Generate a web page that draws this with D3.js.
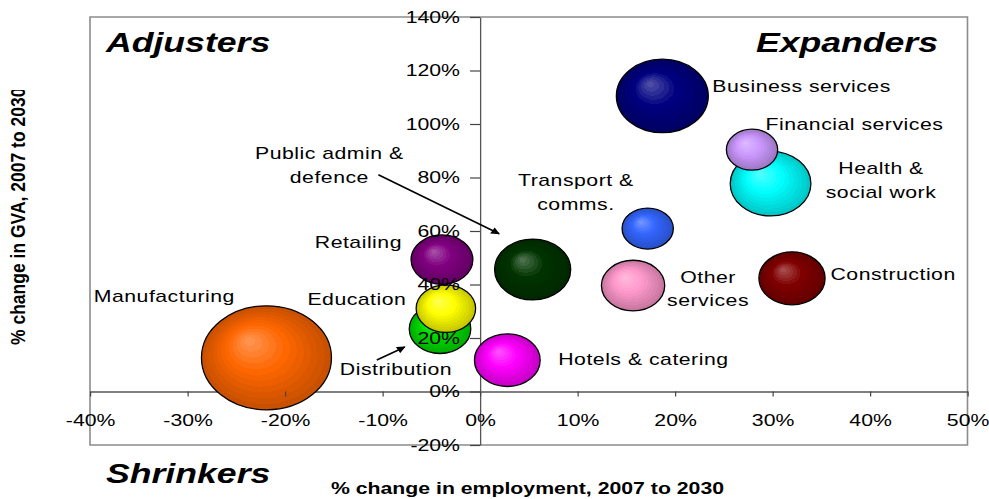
<!DOCTYPE html>
<html>
<head>
<meta charset="utf-8">
<script src="https://cdn.jsdelivr.net/npm/d3@7"></script>
<style>
  html, body { margin: 0; padding: 0; background: #fff; }
  svg { display: block; }
  text { font-family: "Liberation Sans", Arial, Helvetica, sans-serif; fill: #000; }
</style>
</head>
<body>
<svg id="chart" width="989" height="499"></svg>
<script>
// Sectors: % change in employment (x), % change in GVA (y), 2007 to 2030,
// bubble size = relative employment in the sector.
const sectors = [
  "Manufacturing", "Business services", "Health & social work",
  "Public admin & defence", "Construction", "Hotels & catering",
  "Other services", "Retailing", "Distribution", "Education",
  "Financial services", "Transport & comms."
];
const employmentChange = [-21.9, 18.7, 29.8, 5.4, 32.0, 2.8, 15.7, -3.9, -4.1, -3.5, 27.9, 17.2];
const gvaChange        = [12.6, 110.5, 77.7, 45.6, 42.3, 11.7, 39.6, 49.3, 23.4, 31.0, 90.4, 60.9];
const bubbleSize       = [2700, 1350, 1040, 925, 700, 690, 640, 610, 605, 565, 420, 420];
const bubbleColors     = ["#ff6600", "#000080", "#00ffff", "#003300", "#800000", "#ff00ff",
                          "#ff99cc", "#800080", "#00dd00", "#ffff00", "#cc99ff", "#3366ff"];

const xTicks = [-40, -30, -20, -10, 0, 10, 20, 30, 40, 50];
const yTicks = [-20, 0, 20, 40, 60, 80, 100, 120, 140];

const quadrantLabels = ["Adjusters", "Expanders", "Shrinkers"];
const xTitle = "% change in employment, 2007 to 2030";
const yTitle = "% change in GVA, 2007 to 2030";

// Label placement around each bubble (screen pixels from the bubble centre).
const labelLayout = {
  "Manufacturing":          { anchor: "start",  dx: -172.7, dy: -56,   lines: ["Manufacturing"] },
  "Business services":      { anchor: "start",  dx: 50,     dy: -4,    lines: ["Business services"] },
  "Health & social work":   { anchor: "middle", dx: 110.5,  dy: -9.5,  lines: ["Health &", "social work"] },
  "Public admin & defence": { anchor: "middle", dx: -203.3, dy: -110.4,lines: ["Public admin &", "defence"] },
  "Construction":           { anchor: "start",  dx: 38.5,   dy: 1.8,   lines: ["Construction"] },
  "Hotels & catering":      { anchor: "start",  dx: 51,     dy: 4.8,   lines: ["Hotels & catering"] },
  "Other services":         { anchor: "middle", dx: 75,     dy: -3,    lines: ["Other", "services"] },
  "Retailing":              { anchor: "end",    dx: -40,    dy: -11.7, lines: ["Retailing"] },
  "Distribution":           { anchor: "start",  dx: -100.2, dy: 46,    lines: ["Distribution"] },
  "Education":              { anchor: "end",    dx: -39.5,  dy: -3.8,  lines: ["Education"] },
  "Financial services":     { anchor: "start",  dx: 13.5,   dy: -19.8, lines: ["Financial services"] },
  "Transport & comms.":     { anchor: "middle", dx: -71.8,  dy: -42.1, lines: ["Transport &", "comms."] }
};
// Pointer arrows (screen pixels from the bubble centre): [x1, y1, x2, y2]
const pointerArrows = {
  "Public admin & defence": [-154.3, -94.7, -33.5, -35.7],
  "Distribution":           [-63.2, 31, -35.2, 18]
};

const SX = 1.25;           // horizontal stretch of the drawing
const LINE_H = 23.5;

const svg = d3.select("#chart");
const defs = svg.append("defs");

const g = svg.append("g").attr("transform", `scale(${SX},1)`);

const x = d3.scaleLinear().domain([-40, 50]).range([90 / SX, 967.5 / SX]);
const y = d3.scaleLinear().domain([-20, 140]).range([445, 17]);
const r = d3.scaleSqrt().domain([0, d3.max(bubbleSize)]).range([0, 52]);

// plot frame
g.append("rect")
  .attr("x", x(-40)).attr("y", y(140))
  .attr("width", x(50) - x(-40)).attr("height", y(-20) - y(140))
  .attr("fill", "#fff")
  .attr("stroke", "#8c8c8c").attr("stroke-width", 1.6)
  .attr("vector-effect", "non-scaling-stroke");

// layers: axis lines, bubbles, then ticks + labels on top
const lineLayer = g.append("g");
const bubbleLayer = g.append("g");

const xAxis = g.append("g")
  .attr("transform", `translate(0,${y(0)})`)
  .call(d3.axisBottom(x).tickValues(xTicks).tickFormat(d => d + "%")
        .tickSize(5).tickSizeOuter(0).tickPadding(17));
const yAxis = g.append("g")
  .attr("transform", `translate(${x(0)},0)`)
  .call(d3.axisLeft(y).tickValues(yTicks).tickFormat(d => d + "%")
        .tickSize(8).tickSizeOuter(0).tickPadding(8));

[xAxis, yAxis].forEach(a => {
  // move the axis line below the bubbles
  const dom = a.select(".domain").remove().node();
  lineLayer.append(() => dom)
    .attr("transform", a.attr("transform"))
    .attr("stroke", "#555").attr("stroke-width", 1.3)
    .attr("vector-effect", "non-scaling-stroke");
  a.selectAll(".tick line").attr("stroke", "#444").attr("stroke-width", 1.2)
    .attr("vector-effect", "non-scaling-stroke");
  a.selectAll(".tick text")
    .attr("font-size", 17)
    .attr("font-family", "'Liberation Sans', Arial, sans-serif")
    .attr("fill", "#000");
});

// bubbles with radial shading
const rows = sectors.map((s, i) => ({
  sector: s, ex: employmentChange[i], gva: gvaChange[i],
  size: bubbleSize[i], color: bubbleColors[i], i
}));

rows.forEach(d => {
  const base = d3.color(d.color);
  const hl = d3.interpolateRgb(base, "#ffffff")(0.33);
  const edge = base.darker(0.75);
  const shade = t => t < 0.45
      ? d3.interpolateRgb(hl, base)(t / 0.45)
      : d3.interpolateRgb(base, edge)((t - 0.45) / 0.55);
  const grad = defs.append("radialGradient")
    .attr("id", "bub" + d.i)
    .attr("cx", "50%").attr("cy", "50%").attr("r", "50%")
    .attr("fx", "36%").attr("fy", "33%");
  const bands = 12;
  for (let k = 0; k < bands; k++) {
    const c = shade((k + 0.5) / bands);
    grad.append("stop").attr("offset", k / bands).attr("stop-color", c);
    grad.append("stop").attr("offset", (k + 1) / bands).attr("stop-color", c);
  }
});

bubbleLayer.selectAll("circle")
  .data(rows)
  .join("circle")
  .attr("cx", d => x(d.ex))
  .attr("cy", d => y(d.gva))
  .attr("r", d => r(d.size))
  .attr("fill", d => `url(#bub${d.i})`)
  .attr("stroke", "#000")
  .attr("stroke-width", 1.3)
  .attr("vector-effect", "non-scaling-stroke");

// sector labels
const labelLayer = g.append("g");
rows.forEach(d => {
  const L = labelLayout[d.sector];
  const cx = x(d.ex), cy = y(d.gva);
  const t = labelLayer.append("text")
    .attr("text-anchor", L.anchor)
    .attr("font-size", 17)
    .attr("letter-spacing", 0.4)
    .attr("x", cx + L.dx / SX)
    .attr("y", cy + L.dy);
  L.lines.forEach((ln, j) => {
    t.append("tspan").attr("x", cx + L.dx / SX).attr("dy", j === 0 ? 0 : LINE_H).text(ln);
  });
});

// pointer arrows
defs.append("marker")
  .attr("id", "arrowHead")
  .attr("viewBox", "0 0 10 10")
  .attr("refX", 9).attr("refY", 5)
  .attr("markerWidth", 9).attr("markerHeight", 7)
  .attr("markerUnits", "userSpaceOnUse")
  .attr("orient", "auto")
  .append("path").attr("d", "M0,0 L10,5 L0,10 Z").attr("fill", "#000");

rows.filter(d => pointerArrows[d.sector]).forEach(d => {
  const [x1, y1, x2, y2] = pointerArrows[d.sector];
  const cx = x(d.ex), cy = y(d.gva);
  labelLayer.append("line")
    .attr("x1", cx + x1 / SX).attr("y1", cy + y1)
    .attr("x2", cx + x2 / SX).attr("y2", cy + y2)
    .attr("stroke", "#000").attr("stroke-width", 1.6)
    .attr("vector-effect", "non-scaling-stroke")
    .attr("marker-end", "url(#arrowHead)");
});

// quadrant names
const quadStyle = sel => sel.attr("font-size", 28.5).attr("font-weight", "bold")
  .attr("font-style", "italic");
g.append("text").call(quadStyle).attr("x", 106 / SX).attr("y", 52).text(quadrantLabels[0]);
g.append("text").call(quadStyle).attr("x", 938 / SX).attr("y", 52)
  .attr("text-anchor", "end").text(quadrantLabels[1]);
g.append("text").call(quadStyle).attr("x", 106 / SX).attr("y", 483.5).text(quadrantLabels[2]);

// axis titles
g.append("text")
  .attr("x", 527.5 / SX).attr("y", 494.5)
  .attr("text-anchor", "middle")
  .attr("font-size", 17).attr("font-weight", "bold")
  .text(xTitle);

defs.append("clipPath").attr("id", "yTitleClip")
  .append("rect").attr("x", 0).attr("y", 90).attr("width", 60).attr("height", 409);
svg.append("g").attr("clip-path", "url(#yTitleClip)")
  .append("text")
  .attr("transform", "translate(25,345) rotate(-90) scale(1.03,1.15)")
  .attr("font-size", 17).attr("font-weight", "bold")
  .text(yTitle);
</script>
</body>
</html>
